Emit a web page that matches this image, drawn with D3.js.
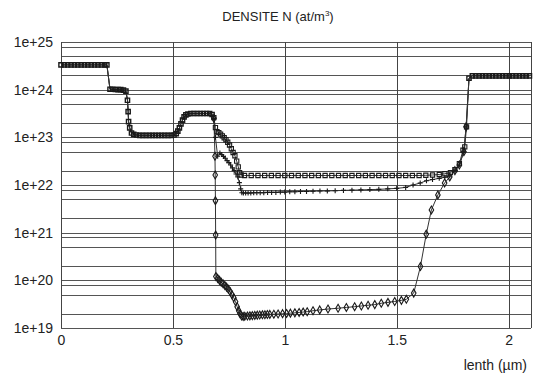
<!DOCTYPE html>
<html>
<head>
<meta charset="utf-8">
<script src="https://cdn.jsdelivr.net/npm/d3@7"></script>
<style>
  body { margin: 0; background: #fff; }
  svg text { font-family: "Liberation Sans", Arial, sans-serif; fill: #222; }
</style>
</head>
<body>
<svg id="chart" width="533" height="377"></svg>
<script>
// shared part of the profile (0 -> 0.675 um)
const xCommon = [0, 0.015, 0.03, 0.045, 0.06, 0.075, 0.09, 0.105, 0.12, 0.135, 0.15, 0.165, 0.18, 0.195, 0.205,
  0.219, 0.231, 0.243, 0.255, 0.267, 0.279, 0.29,
  0.297, 0.3, 0.302, 0.307, 0.315, 0.325, 0.338,
  0.352, 0.366, 0.38, 0.394, 0.408, 0.422, 0.436, 0.45, 0.464, 0.478, 0.492, 0.505,
  0.515, 0.522, 0.529, 0.536, 0.543, 0.55, 0.558, 0.567,
  0.58, 0.594, 0.608, 0.622, 0.636, 0.65, 0.664, 0.675];
const nCommon = [3.31e24, 3.31e24, 3.31e24, 3.31e24, 3.31e24, 3.31e24, 3.31e24, 3.31e24, 3.31e24, 3.31e24, 3.31e24, 3.31e24, 3.31e24, 3.31e24, 3.31e24,
  1.02e24, 1.02e24, 1.01e24, 1.0e24, 1.0e24, 9.8e23, 9.3e23,
  6.0e23, 3.47e23, 2.14e23, 1.58e23, 1.23e23, 1.15e23, 1.12e23,
  1.1e23, 1.1e23, 1.1e23, 1.1e23, 1.1e23, 1.1e23, 1.1e23, 1.1e23, 1.1e23, 1.1e23, 1.1e23, 1.12e23,
  1.2e23, 1.35e23, 1.58e23, 1.91e23, 2.29e23, 2.69e23, 2.95e23, 3.09e23,
  3.16e23, 3.16e23, 3.16e23, 3.16e23, 3.16e23, 3.16e23, 3.16e23, 3.02e23];

// branch with square markers
const xSquare = [0.683, 0.69, 0.697, 0.705, 0.713, 0.721, 0.729, 0.737, 0.745, 0.753, 0.761, 0.769, 0.777, 0.785, 0.792, 0.798, 0.805,
  0.82, 0.85, 0.88, 0.91, 0.94, 0.97, 1.0, 1.03, 1.06, 1.09, 1.12, 1.15, 1.18, 1.21, 1.24, 1.27, 1.3, 1.33, 1.36, 1.39,
  1.42, 1.45, 1.48, 1.51, 1.54, 1.57, 1.6, 1.63, 1.66, 1.69,
  1.715, 1.74, 1.76, 1.78, 1.796, 1.804, 1.812];
const nSquare = [2.6e23, 1.6e23, 1.32e23, 1.26e23, 1.17e23, 1.07e23, 9.8e22, 8.9e22, 7.9e22, 6.9e22, 5.75e22, 4.8e22, 4.1e22, 3.16e22, 2.4e22, 1.82e22, 1.62e22,
  1.58e22, 1.58e22, 1.58e22, 1.58e22, 1.58e22, 1.58e22, 1.58e22, 1.58e22, 1.58e22, 1.58e22, 1.58e22, 1.58e22, 1.58e22, 1.58e22, 1.58e22, 1.58e22, 1.58e22, 1.58e22, 1.58e22, 1.58e22,
  1.58e22, 1.58e22, 1.58e22, 1.58e22, 1.58e22, 1.58e22, 1.58e22, 1.6e22, 1.62e22, 1.66e22,
  1.72e22, 1.82e22, 2.1e22, 2.8e22, 5.37e22, 6.3e22, 1.66e23];

// branch with plus markers
const xPlus = [0.683, 0.69, 0.7, 0.71, 0.718, 0.726, 0.734, 0.742, 0.75, 0.758, 0.766, 0.774, 0.782, 0.79, 0.797, 0.803, 0.808,
  0.815, 0.825, 0.836, 0.848, 0.861, 0.875, 0.89, 0.906, 0.923, 0.941, 0.96, 0.98, 1.0, 1.022, 1.045, 1.07, 1.097, 1.126,
  1.157, 1.19, 1.225, 1.262, 1.3, 1.34, 1.38, 1.42, 1.46, 1.5, 1.54, 1.573, 1.605, 1.633, 1.66, 1.69, 1.715, 1.737,
  1.76, 1.78, 1.8, 1.81];
const nPlus = [2.5e23, 1.0e23, 4.0e22, 4.68e22, 4.37e22, 3.98e22, 3.63e22, 3.24e22, 2.95e22, 2.63e22, 2.29e22, 2.0e22, 1.7e22, 1.48e22, 1.12e22, 8.3e21, 6.9e21,
  6.8e21, 6.8e21, 6.8e21, 6.8e21, 6.9e21, 6.9e21, 6.9e21, 6.9e21, 7.0e21, 7.0e21, 7.0e21, 7.1e21, 7.1e21, 7.2e21, 7.2e21, 7.3e21, 7.3e21, 7.4e21,
  7.5e21, 7.5e21, 7.6e21, 7.7e21, 7.8e21, 7.9e21, 8.0e21, 8.1e21, 8.3e21, 8.5e21, 8.9e21, 1.0e22, 1.1e22, 1.23e22, 1.3e22, 1.38e22, 1.45e22, 1.55e22,
  2.0e22, 2.63e22, 5.0e22, 1.66e23];

// branch with diamond markers
const xDiamond = [0.683, 0.688, 0.689, 0.69, 0.691, 0.692, 0.7, 0.708, 0.716, 0.724, 0.732, 0.74, 0.748, 0.756, 0.764, 0.772, 0.78, 0.787, 0.794, 0.8, 0.807, 0.814,
  0.821, 0.833, 0.844, 0.855, 0.866, 0.877, 0.888, 0.9, 0.911, 0.922, 0.933, 0.951, 0.97, 0.99, 1.008, 1.025, 1.045, 1.064, 1.082, 1.1,
  1.126, 1.156, 1.193, 1.238, 1.275, 1.312, 1.342, 1.372, 1.402, 1.431, 1.461, 1.491, 1.521, 1.543,
  1.576, 1.606, 1.632, 1.655, 1.684, 1.714, 1.737, 1.76, 1.78, 1.8, 1.81];
const nDiamond = [2.5e23, 4.0e22, 1.62e22, 4.7e21, 8.9e20, 1.2e20, 1.1e20, 1.0e20, 9.1e19, 8.5e19, 7.8e19, 7.2e19, 6.5e19, 5.75e19, 5.0e19, 4.3e19, 3.55e19, 2.8e19, 2.3e19, 2.0e19, 1.78e19, 1.74e19,
  1.76e19, 1.78e19, 1.8e19, 1.82e19, 1.84e19, 1.86e19, 1.87e19, 1.89e19, 1.9e19, 1.92e19, 1.93e19, 1.95e19, 1.97e19, 2.0e19, 2.02e19, 2.05e19, 2.08e19, 2.12e19, 2.16e19, 2.2e19,
  2.3e19, 2.4e19, 2.5e19, 2.6e19, 2.7e19, 2.8e19, 2.9e19, 3.0e19, 3.1e19, 3.3e19, 3.45e19, 3.6e19, 3.8e19, 4.0e19,
  5.4e19, 1.95e20, 9.3e20, 3.0e21, 6.2e21, 1.1e22, 1.48e22, 2.0e22, 2.63e22, 5.0e22, 1.66e23];

// shared right plateau
const xRight = [1.823, 1.838, 1.853, 1.868, 1.883, 1.898, 1.913, 1.928, 1.943, 1.958, 1.973, 1.988, 2.003, 2.018, 2.033, 2.048, 2.063, 2.078, 2.093];
const nRight = [1.74e24, 1.95e24, 1.95e24, 1.95e24, 1.95e24, 1.95e24, 1.95e24, 1.95e24, 1.95e24, 1.95e24, 1.95e24, 1.95e24, 1.95e24, 1.95e24, 1.95e24, 1.95e24, 1.95e24, 1.95e24, 1.95e24];

const xTicks = [0, 0.5, 1, 1.5, 2];
const yTicks = [1e19, 1e20, 1e21, 1e22, 1e23, 1e24, 1e25];
const gridMultipliers = [2, 5, 8];

const svg = d3.select("#chart");
const x = d3.scaleLinear().domain([0, 2.1]).range([61, 531]);
const y = d3.scaleLog().domain([1e19, 1e25]).range([328, 42]);

const zip = (xs, ns) => xs.map((v, i) => ({ x: v, n: ns[i] }));
const common = zip(xCommon, nCommon);
const right = zip(xRight, nRight);

// grid
const grid = svg.append("g").attr("class", "grid");
const minor = [];
yTicks.slice(0, -1).forEach(t => gridMultipliers.forEach(m => minor.push(t * m)));
grid.selectAll("line.h")
  .data(yTicks.concat(minor))
  .enter().append("line")
  .attr("x1", x(0)).attr("x2", x(2.1))
  .attr("y1", d => Math.round(y(d)) + 0.5).attr("y2", d => Math.round(y(d)) + 0.5)
  .attr("stroke", "#555").attr("stroke-width", 1);
grid.selectAll("line.v")
  .data(xTicks.concat([2.1]))
  .enter().append("line")
  .attr("x1", d => Math.round(x(d)) + 0.5).attr("x2", d => Math.round(x(d)) + 0.5)
  .attr("y1", y(1e25)).attr("y2", y(1e19))
  .attr("stroke", "#444").attr("stroke-width", 1);

// axes (labels only)
const xAxis = svg.append("g").attr("transform", "translate(0," + y(1e19) + ")")
  .call(d3.axisBottom(x).tickValues(xTicks).tickSize(0).tickPadding(7).tickFormat(d3.format("")));
const yAxis = svg.append("g").attr("transform", "translate(" + x(0) + ",0)")
  .call(d3.axisLeft(y).tickValues(yTicks).tickSize(0).tickPadding(8)
    .tickFormat(d => "1e+" + Math.round(Math.log10(d))));
[xAxis, yAxis].forEach(a => {
  a.select(".domain").remove();
  a.selectAll("text").style("font-size", "14px").attr("fill", "#222");
});

// series lines
const line = d3.line().x(d => x(d.x)).y(d => y(d.n));
const branches = [
  { pts: zip(xSquare, nSquare), symbol: "square" },
  { pts: zip(xPlus, nPlus), symbol: "plus" },
  { pts: zip(xDiamond, nDiamond), symbol: "diamond" }
];
branches.forEach(b => {
  svg.append("path")
    .datum(common.concat(b.pts, right))
    .attr("d", line)
    .attr("fill", "none")
    .attr("stroke", "#333")
    .attr("stroke-width", 1);
});

// markers
const symbolPath = {
  square: d3.symbol().type(d3.symbolSquare).size(18)(),
  diamond: d3.symbol().type(d3.symbolDiamond).size(18)(),
  plus: "M-2.5,0H2.5M0,-2.5V2.5"
};
function drawMarkers(pts, kind, width) {
  svg.append("g").selectAll("path")
    .data(pts)
    .enter().append("path")
    .attr("transform", d => "translate(" + x(d.x) + "," + y(d.n) + ")")
    .attr("d", symbolPath[kind])
    .attr("fill", "none")
    .attr("stroke", "#1a1a1a")
    .attr("stroke-width", width);
}
drawMarkers(common, "square", 1.4);
branches.forEach(b => drawMarkers(b.pts, b.symbol, 1.1));
drawMarkers(right, "square", 1.4);

// title and axis label
const title = svg.append("text")
  .attr("x", 278).attr("y", 21)
  .attr("text-anchor", "middle")
  .style("font-size", "13px");
title.append("tspan").text("DENSITE N (at/m");
title.append("tspan").attr("dy", -5).style("font-size", "8px").text("3");
title.append("tspan").attr("dy", 5).text(")");

svg.append("text")
  .attr("x", 527).attr("y", 370)
  .attr("text-anchor", "end")
  .style("font-size", "14px")
  .text("lenth (µm)");
</script>
</body>
</html>
